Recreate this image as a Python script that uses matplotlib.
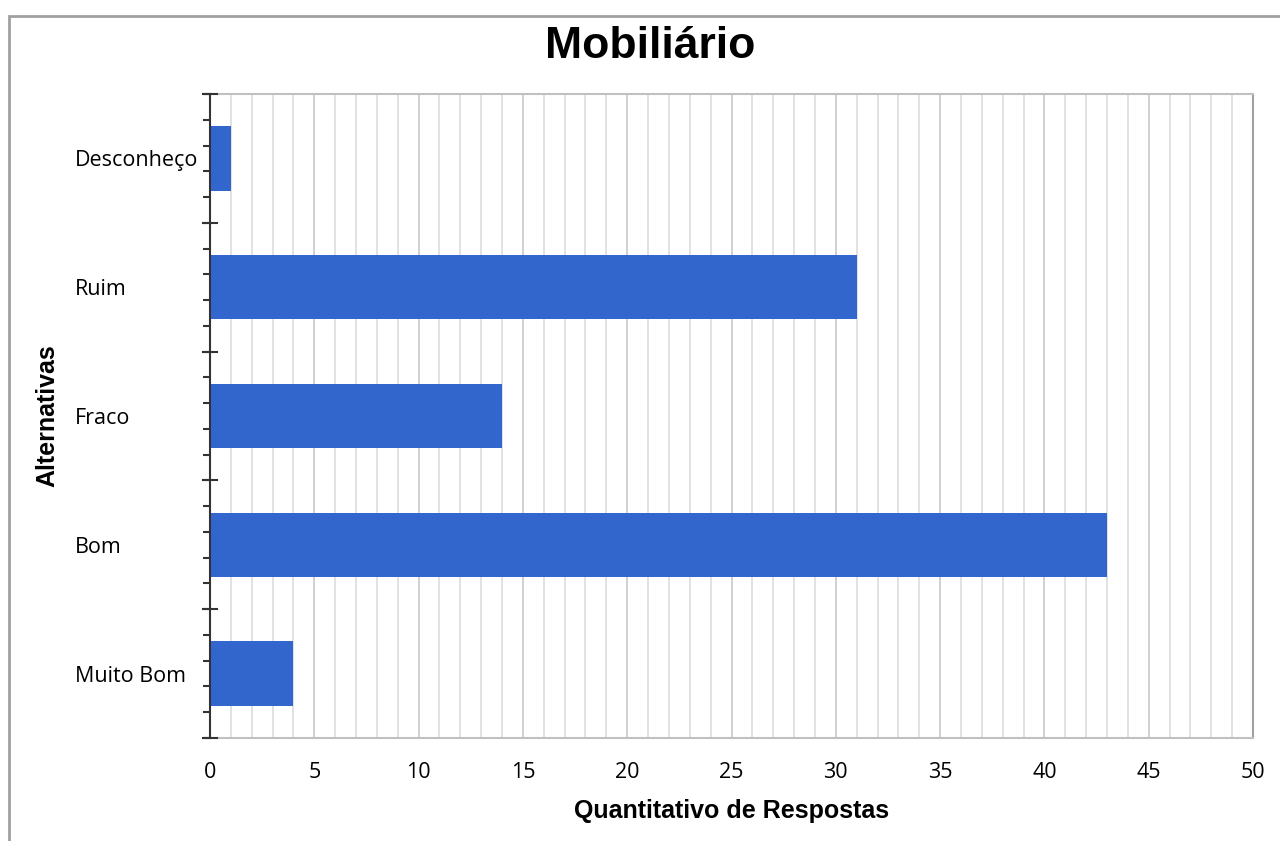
import numpy as np
import matplotlib
matplotlib.use("Agg")
from matplotlib import pyplot as plt
from matplotlib.ticker import MultipleLocator, FixedLocator
from matplotlib.patches import Rectangle

# data (bottom to top)
categories = ["Muito Bom", "Bom", "Fraco", "Ruim", "Desconheço"]
values = [4, 43, 14, 31, 1]

fig = plt.figure(figsize=(12.8, 8.41), dpi=100)
ax = fig.add_axes([210/1280, 1 - 738/841, 1043/1280, 644/841])

# frame around the figure (only top/left visible in the reference)
fig.patches.append(Rectangle((9/1280, -0.1), 1.2, 1 - 16/841 + 0.1, transform=fig.transFigure,
                             fill=False, edgecolor="#a0a0a0", linewidth=2))

y = np.arange(len(categories))
ax.barh(y, values, height=0.5, color="#3366CC", zorder=3)

ax.set_xlim(0, 50)
ax.set_ylim(-0.5, len(categories) - 0.5)

ax.xaxis.set_major_locator(MultipleLocator(5))
ax.xaxis.set_minor_locator(MultipleLocator(1))
ax.grid(axis="x", which="minor", color="#dcdcdc", linewidth=1.2, zorder=0)
ax.grid(axis="x", which="major", color="#c8c8c8", linewidth=1.2, zorder=0)
ax.tick_params(axis="x", which="both", length=0, pad=17, labelsize=15.5)
for lab in ax.get_xticklabels():
    lab.set_family("Open Sans")

ax.set_yticks(y)
ax.set_yticklabels(categories, family="Open Sans", fontsize=15.5, ha="left",
                   va="center_baseline")
minor = [-0.5 + k * 0.2 for k in range(len(categories) * 5 + 1)]
ax.yaxis.set_minor_locator(FixedLocator(minor))
ax.tick_params(axis="y", which="major", length=0, pad=97)
ax.tick_params(axis="y", which="minor", direction="out", length=5, width=1.5, color="#333333")
# category boundary ticks crossing the axis
for b in np.arange(-0.5, len(categories), 1.0):
    ax.plot([-0.35, 0.35], [b, b], color="#333333", lw=1.5, clip_on=False, zorder=5)

for s in ["top", "right", "bottom"]:
    ax.spines[s].set_color("#c0c0c0")
    ax.spines[s].set_linewidth(1.5)
ax.spines["right"].set_color("#a0a0a0")
ax.spines["left"].set_color("#333333")
ax.spines["left"].set_linewidth(1.5)
ax.spines["left"].set_zorder(6)

fig.text(650/1280, 1 - 46/841, "Mobiliário", ha="center", va="center",
         family="Liberation Sans", fontweight="bold", fontsize=32)
ax.set_xlabel("Quantitativo de Respostas", family="Liberation Sans", fontweight="bold",
              fontsize=18, labelpad=12)
ax.set_ylabel("Alternativas", family="Liberation Sans", fontweight="bold", fontsize=18,
              va="center")
ax.yaxis.set_label_coords((47 - 210) / 1043, 0.5)

fig.savefig("out.png", dpi=100)
